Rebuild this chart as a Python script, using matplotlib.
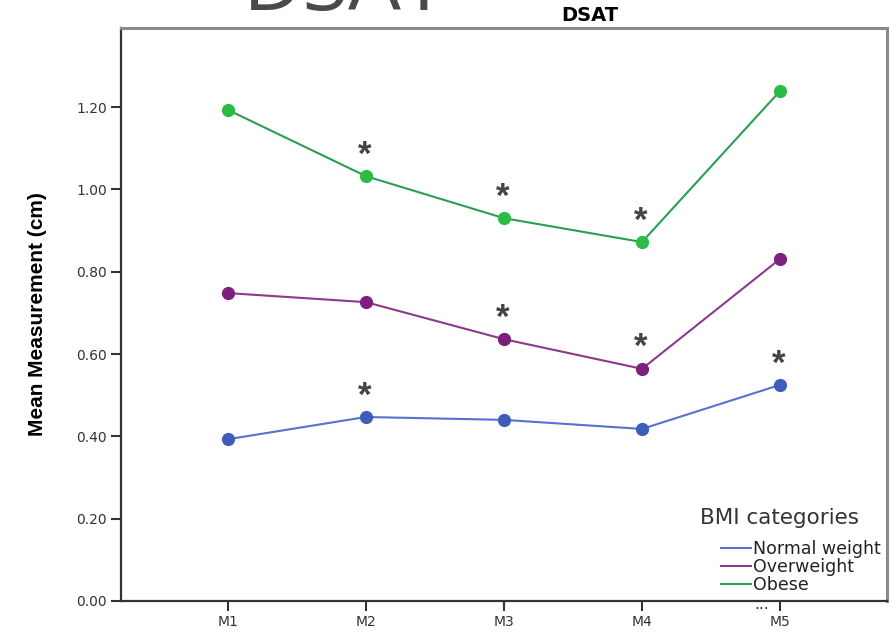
import matplotlib
matplotlib.use('Agg')
import matplotlib.pyplot as plt
from matplotlib.lines import Line2D
from matplotlib.ticker import FormatStrFormatter

# data
visits = ['M1', 'M2', 'M3', 'M4', 'M5']
normal_weight = [0.393, 0.447, 0.440, 0.418, 0.525]
overweight = [0.748, 0.726, 0.636, 0.564, 0.831]
obese = [1.193, 1.032, 0.930, 0.872, 1.239]
groups = ['Normal weight', 'Overweight', 'Obese']
# significance marks: (group, visit)
stars = [('Normal weight', 'M2'), ('Normal weight', 'M5'),
         ('Overweight', 'M3'), ('Overweight', 'M4'),
         ('Obese', 'M2'), ('Obese', 'M3'), ('Obese', 'M4')]

values = {'Normal weight': normal_weight, 'Overweight': overweight, 'Obese': obese}
line_cols = {'Normal weight': '#5672cc', 'Overweight': '#8c3a8c', 'Obese': '#2a9e52'}
dot_cols = {'Normal weight': '#3e5cbb', 'Overweight': '#7d1f7d', 'Obese': '#2dbb47'}

plt.rcParams['font.family'] = ['DejaVu Sans']

fig = plt.figure(figsize=(8.94, 6.32), dpi=100)
ax = fig.add_axes([121/894, 31/632, 766/894, 573/632])

x = list(range(len(visits)))
for g in groups:
    ax.plot(x, values[g], color=line_cols[g], lw=1.5, zorder=2)
    ax.plot(x, values[g], ls='none', marker='o', ms=8.5, mfc=dot_cols[g],
            mec=dot_cols[g], zorder=3)

for g, v in stars:
    i = visits.index(v)
    ax.annotate('*', (i, values[g][i]), xytext=(-1, 27), textcoords='offset points',
                ha='center', va='top', fontsize=25, fontweight='bold',
                color='#444444', family='Liberation Sans')

ax.set_xlim(-0.775, 4.775)
ax.set_ylim(0, 1.392)
ax.set_xticks(x)
ax.set_xticklabels(visits)
ax.set_yticks([0, 0.2, 0.4, 0.6, 0.8, 1.0, 1.2])
ax.yaxis.set_major_formatter(FormatStrFormatter('%.2f'))
ax.tick_params(direction='out', length=7, width=1.5, color='#333333',
               labelsize=10, labelcolor='#333333', pad=3)
for s in ['left', 'bottom']:
    ax.spines[s].set_color('#333333')
    ax.spines[s].set_linewidth(1.6)
for s in ['top', 'right']:
    ax.spines[s].set_color('#8a8a8a')
    ax.spines[s].set_linewidth(2.2)

ax.set_ylabel('Mean Measurement (cm)', family='Liberation Sans', fontweight='bold',
              fontsize=15, color='black', labelpad=21)

handles = [Line2D([], [], color=line_cols[g], lw=1.5) for g in groups]
leg = ax.legend(handles, groups, loc='lower right',
                bbox_to_anchor=(881/894, 38/632), bbox_transform=fig.transFigure,
                frameon=False, fontsize=12.5, handlelength=1.75, handletextpad=0.12,
                labelspacing=0.0, borderpad=0, borderaxespad=0)
for t in leg.get_texts():
    t.set_color('#222222')
fig.text(780/894, 1 - 518/632, 'BMI categories', ha='center', va='center',
         fontsize=15.5, color='#333333')

fig.text(762/894, 1 - 609/632, '...', ha='center', va='baseline', fontsize=11,
         color='#333333')
fig.text(590/894, 1 - 21/632, 'DSAT', ha='center', va='baseline',
         fontweight='bold', fontsize=14)
fig.text(345/894, 1 - 10/632, 'DSAT', ha='center', va='baseline',
         family='Open Sans', fontsize=60, color='#4a4a4a')

fig.savefig('out.png', dpi=100)
